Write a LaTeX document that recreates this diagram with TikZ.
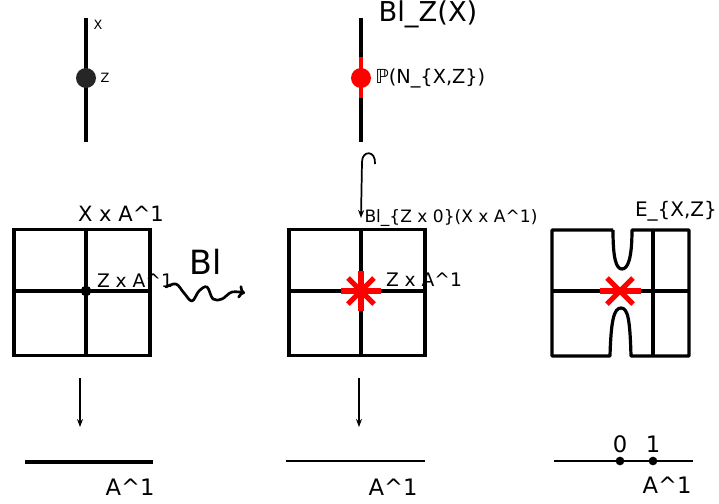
\documentclass[tikz,border=0pt]{standalone}
\usepackage{fontspec}
\setmainfont{DejaVu Sans}
\usetikzlibrary{arrows.meta}
\tikzset{
  thickln/.style={line width=2.4pt, black},
  thinarr/.style={line width=1.2pt, -{Stealth[length=6pt,width=4.5pt]}},
  redln/.style={line width=3.8pt, red},
  lbl/.style={inner sep=0pt, font=#1},
}
\begin{document}
\begin{tikzpicture}[x=0.75pt,y=-0.75pt]
\useasboundingbox (0,0) rectangle (719,504);
% ---------- top left: X with point Z
\coordinate (xt) at (86,18);
\coordinate (xb) at (86,142);
\draw[thickln] (xt) -- (xb);
\node[circle, fill=black!85, minimum size=15pt, inner sep=0pt] (zpt) at (86,78) {};
\node[lbl={\fontsize{9.6}{10}\selectfont}] (lX) at (98,25) {X};
\node[lbl={\fontsize{9.6}{10}\selectfont}] (lZ) at (105,78) {Z};
% ---------- top middle: Bl_Z(X)
\coordinate (bt) at (361,18);
\coordinate (bb) at (361,142);
\draw[thickln] (bt) -- (bb);
\coordinate (rt) at (361,57);
\coordinate (rb) at (361,98);
\draw[line width=3.6pt, red] (rt) -- (rb);
\node[circle, fill=red, minimum size=15pt, inner sep=0pt] (ept) at (361,78) {};
\node[lbl={\fontsize{20.5}{22}\selectfont}] (lBlZ) at (428,14) {Bl\_Z(X)};
\node[lbl={\fontsize{14.5}{16}\selectfont}, anchor=west] (lPN) at (375,78) {ℙ(N\_\{X,Z\})};
% hook arrow
\coordinate (hs) at (375,164);
\coordinate (he) at (361,218);
\draw[line width=1.3pt, -{Stealth[length=6pt,width=4.5pt]}] (hs) .. controls (376,150) and (362,150) .. (362,162) -- (he);
\node[lbl={\fontsize{12.8}{14}\selectfont}] (lBl0) at (451,218) {Bl\_\{Z x 0\}(X x A\^{}1)};
% ---------- left square X x A^1
\node[draw, line width=2.4pt, minimum width=102pt, minimum height=94pt, inner sep=0pt] (sq1) at (82,292.5) {};
\draw[thickln] (sq1.north -| 86,0) -- (sq1.south -| 86,0);
\draw[thickln] (sq1.west |- 0,291) -- (sq1.east |- 0,291);
\node[circle, fill=black, minimum size=8pt, inner sep=0pt] (zz) at (86,291) {};
\node[lbl={\fontsize{15.8}{17}\selectfont}] (lXA) at (121,214) {X x A\^{}1};
\node[lbl={\fontsize{14}{15}\selectfont}] (lZA1) at (135,281) {Z x A\^{}1};
% Bl squiggle
\node[lbl={\fontsize{25}{27}\selectfont}] (lBl) at (206,262) {Bl};
\coordinate (sqs) at (166,287);
\coordinate (sqe) at (245,293);
\draw[line width=2pt, -{To[length=5pt,width=10pt]}, line cap=round, line join=round]
  plot[smooth, tension=0.6] coordinates {(166,287) (176,284) (184,293) (192,301) (199,291) (207,287) (213,299) (222,299) (232,292) (245,293)};
% ---------- middle square
\node[draw, line width=2.4pt, minimum width=102pt, minimum height=94pt, inner sep=0pt] (sq2) at (357,292.5) {};
\draw[thickln] (sq2.north -| 361,0) -- (sq2.south -| 361,0);
\draw[thickln] (sq2.west |- 0,291) -- (sq2.east |- 0,291);
\coordinate (as) at (361,291);
\draw[redln] (341,291) -- (381,291);
\draw[redln] (361,271) -- (361,311);
\draw[redln] (348,278) -- (374,304);
\draw[redln] (348,304) -- (374,278);
\node[lbl={\fontsize{14}{15}\selectfont}] (lZA2) at (424,280) {Z x A\^{}1};
% ---------- right figure E_{X,Z}
\draw[thickln, line join=round] (613,230) -- (552,230) -- (552,356) -- (610,356)
  .. controls (611,320) and (614,308) .. (621,308)
  .. controls (628,308) and (630,320) .. (631,356) -- (689,356) -- (689,230) -- (632,230)
  .. controls (632,258) and (628,269) .. (622,269)
  .. controls (616,269) and (613,258) .. (613,230);
\coordinate (ev1) at (653,230);
\coordinate (ev2) at (653,356);
\draw[thickln] (ev1) -- (ev2);
\coordinate (eh1) at (552,291);
\coordinate (eh2) at (689,291);
\draw[thickln] (eh1) -- (eh2);
\draw[redln] (600,291) -- (641,291);
\draw[redln] (607,278) -- (633,304);
\draw[redln] (607,304) -- (633,278);
\node[lbl={\fontsize{15}{17}\selectfont}] (lE) at (676,211) {E\_\{X,Z\}};
% ---------- bottom
\coordinate (a1s) at (80,378);
\coordinate (a1e) at (80,427);
\draw[thinarr] (a1s) -- (a1e);
\coordinate (a2s) at (359,378);
\coordinate (a2e) at (359,427);
\draw[thinarr] (a2s) -- (a2e);
\coordinate (l1a) at (25,462);
\coordinate (l1b) at (153,462);
\draw[thickln] (l1a) -- (l1b);
\coordinate (l2a) at (286,461);
\coordinate (l2b) at (425,461);
\draw[line width=2.1pt] (l2a) -- (l2b);
\coordinate (l3a) at (554,461);
\coordinate (l3b) at (693,461);
\draw[line width=1.9pt] (l3a) -- (l3b);
\node[circle, fill=black, minimum size=6.5pt, inner sep=0pt] (p0) at (620,461) {};
\node[circle, fill=black, minimum size=6.5pt, inner sep=0pt] (p1) at (653,461) {};
\node[lbl={\fontsize{17}{19}\selectfont}] (l0) at (620,444) {0};
\node[lbl={\fontsize{17}{19}\selectfont}] (l1) at (653,444) {1};
\node[lbl={\fontsize{17}{19}\selectfont}] (lA1) at (130,487) {A\^{}1};
\node[lbl={\fontsize{17}{19}\selectfont}] (lA2) at (393,487) {A\^{}1};
\node[lbl={\fontsize{17}{19}\selectfont}] (lA3) at (667,485) {A\^{}1};
\end{tikzpicture}
\end{document}
